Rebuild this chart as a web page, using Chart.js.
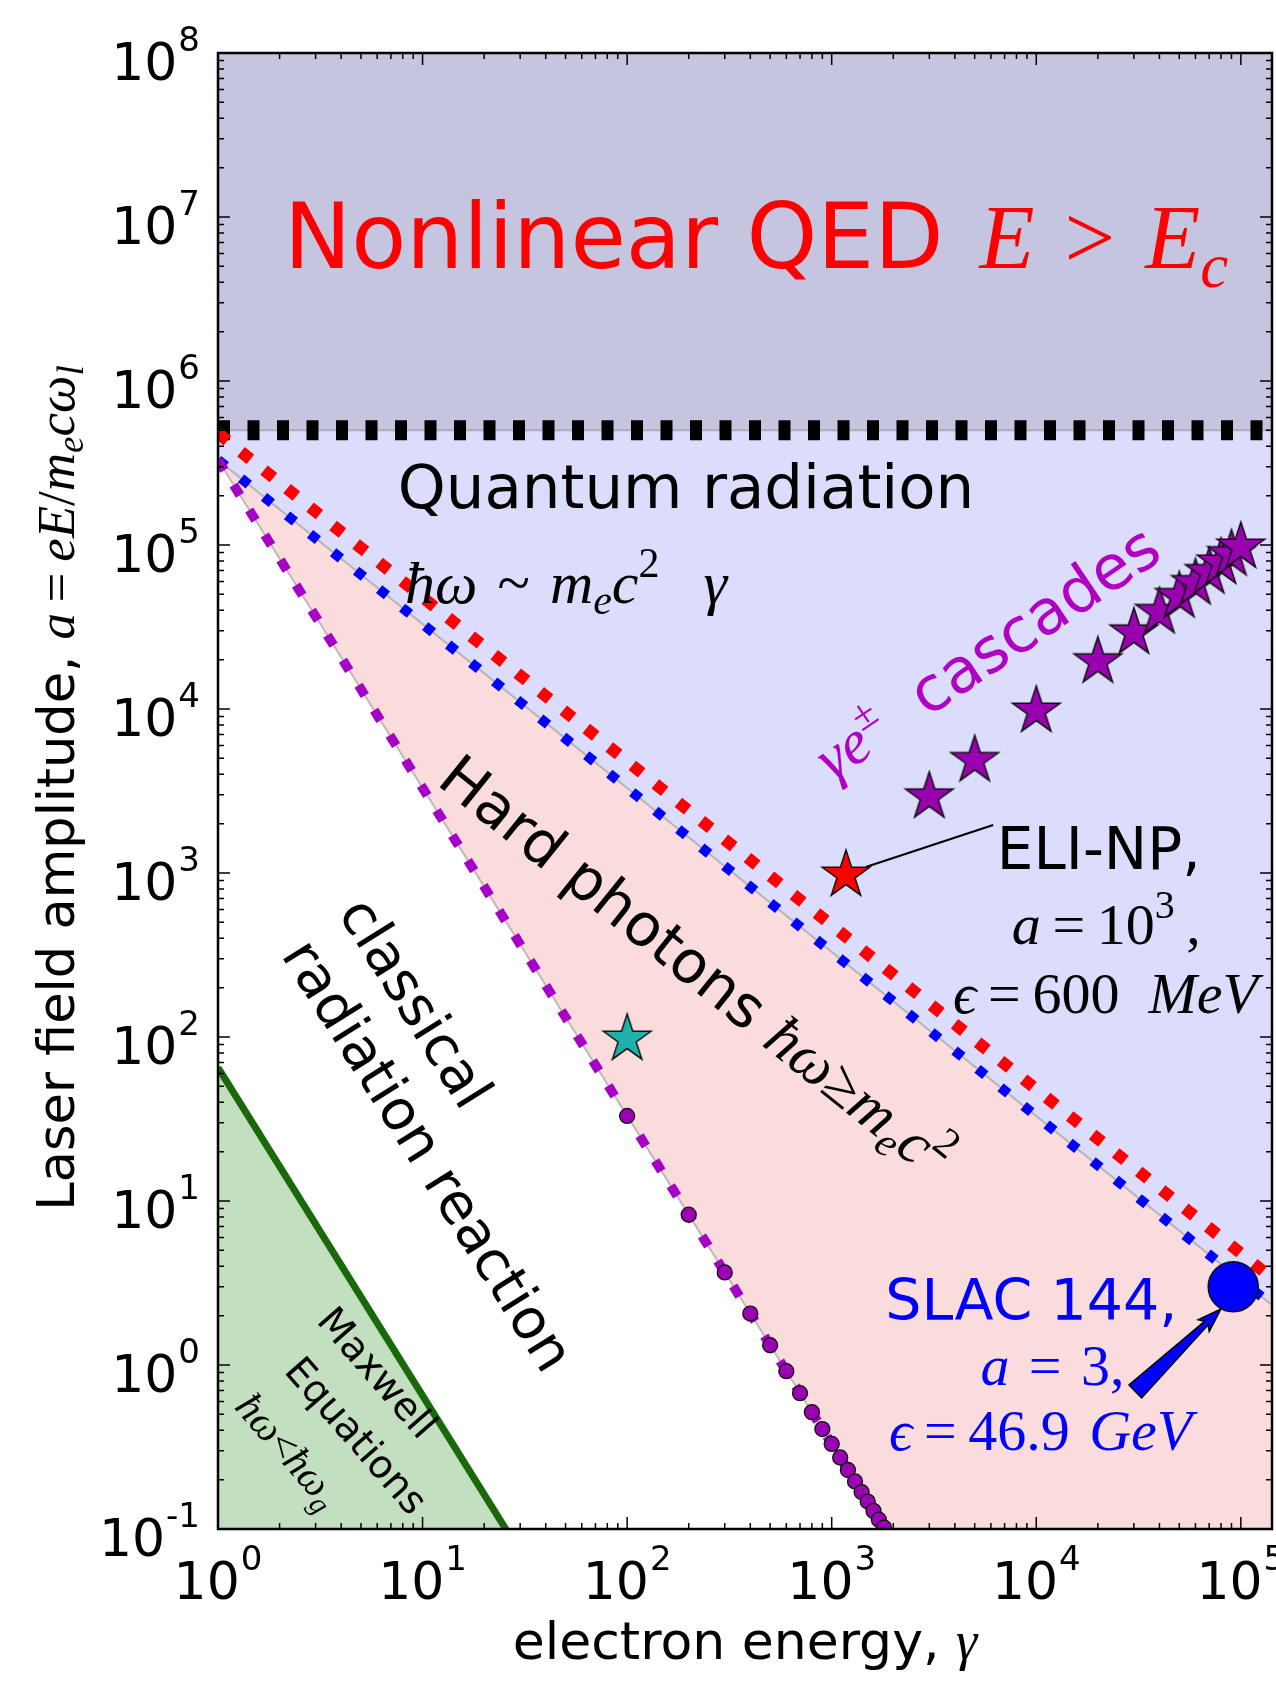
<!DOCTYPE html>
<html>
<head>
<meta charset="utf-8">
<script src="https://cdn.jsdelivr.net/npm/chart.js@4.4.1/dist/chart.umd.min.js"></script>
<style>
html,body{margin:0;padding:0;background:#ffffff;}
canvas{display:block;}
</style>
</head>
<body>
<canvas id="c" width="1276" height="1681"></canvas>
<script>
// ------------------------- DATA -------------------------
const xRange = [1, 1.42e5];
const yRange = [0.1, 1e8];
const xTickValues = [1, 10, 100, 1000, 10000, 100000];
const xTickLabels = ['10^0', '10^1', '10^2', '10^3', '10^4', '10^5'];
const yTickValues = [0.1, 1, 10, 100, 1000, 10000, 100000, 1e6, 1e7, 1e8];
const yTickLabels = ['10^-1', '10^0', '10^1', '10^2', '10^3', '10^4', '10^5', '10^6', '10^7', '10^8'];

// E = E_c (black dotted), nonlinear QED region above it
const criticalGamma = [1, 1.42e5];
const criticalA = [5e5, 5e5];
// hbar*omega ~ m c^2 gamma  (red dotted)
const quantumRedGamma = [1, 1.42e5];
const quantumRedA = [4.8e5, 3.38];
// quantum radiation boundary (blue dotted)
const quantumBlueGamma = [1, 1.42e5];
const quantumBlueA = [3.3e5, 2.32];
// hard photons boundary hbar*omega >= m c^2 (purple dotted)
const hardGamma = [1, 2000];
const hardA = [3.3e5, 0.0825];
// Maxwell equations boundary (green)
const maxwellGamma = [1, 26];
const maxwellA = [65, 0.0962];
// purple circles on the hard-photon boundary
const rrGamma = [100, 200, 300, 400, 500, 600, 700, 800, 900, 1000, 1100, 1200, 1300, 1400, 1500, 1600, 1700, 1800];
const rrA = [33, 8.25, 3.67, 2.06, 1.32, 0.917, 0.673, 0.516, 0.407, 0.33, 0.273, 0.229, 0.195, 0.168, 0.147, 0.129, 0.114, 0.102];
// gamma e+- cascades (purple stars)
const cascadeGamma = [3000, 5000, 10000, 20000, 30000, 40000, 50000, 60000, 70000, 80000, 90000, 100000];
const cascadeA = [3000, 5000, 10000, 20000, 30000, 40000, 50000, 60000, 70000, 80000, 90000, 100000];
// ELI-NP (red star)
const eliGamma = [1174];
const eliA = [1000];
// cyan star
const cyanGamma = [100];
const cyanA = [100];
// SLAC 144 (blue circle)
const slacGamma = [91780];
const slacA = [3];

// ------------------------- STYLE HELPERS -------------------------
const SANS = '"DejaVu Sans", "Bitstream Vera Sans", sans-serif';
const SERIF = '"Liberation Serif", "DejaVu Serif", serif';
const pts = (xs, ys) => xs.map((x, i) => ({x: x, y: ys[i]}));

function makeStar(R, fill) {
  const c = document.createElement('canvas');
  const s = Math.ceil(2 * R + 6);
  c.width = s; c.height = s;
  const g = c.getContext('2d');
  const r = R * 0.382;
  g.beginPath();
  for (let i = 0; i < 10; i++) {
    const rad = (i % 2 === 0) ? R : r;
    const ang = -Math.PI / 2 + i * Math.PI / 5;
    const px = s / 2 + rad * Math.cos(ang), py = s / 2 + rad * Math.sin(ang) + R * 0.08;
    if (i === 0) g.moveTo(px, py); else g.lineTo(px, py);
  }
  g.closePath();
  g.fillStyle = fill; g.fill();
  g.lineWidth = 1.5; g.strokeStyle = '#111'; g.lineJoin = 'miter'; g.stroke();
  return c;
}
const purpleStar = makeStar(25, '#9900b0');
const redStar = makeStar(25, '#ff0000');
const cyanStar = makeStar(25, '#20b2aa');

function dotted(lw, period) { return [lw, period - lw]; }

// rich text: runs of {t, font, dy, g(extra gap after)}
function drawRich(ctx, runs, x, y, angleDeg, align, shift, color) {
  ctx.save();
  ctx.translate(x, y);
  ctx.rotate(angleDeg * Math.PI / 180);
  ctx.textBaseline = 'alphabetic';
  ctx.textAlign = 'left';
  let total = 0;
  runs.forEach(r => { ctx.font = r.font; r.w = ctx.measureText(r.t).width + (r.g || 0); total += r.w; });
  let cx = align === 'center' ? -total / 2 : (align === 'right' ? -total : 0);
  runs.forEach(r => {
    ctx.font = r.font;
    ctx.fillStyle = r.color || color || '#000';
    ctx.fillText(r.t, cx, (shift || 0) + (r.dy || 0));
    cx += r.w;
  });
  ctx.restore();
}
const S = (t, px, dy, g) => ({t: t, font: px + 'px ' + SANS, dy: dy || 0, g: g || 0});
const M = (t, px, dy, g) => ({t: t, font: 'italic ' + px + 'px ' + SERIF, dy: dy || 0, g: g || 0});
const U = (t, px, dy, g) => ({t: t, font: px + 'px ' + SERIF, dy: dy || 0, g: g || 0});

function drawPow(ctx, label, x, y, align) {
  const parts = label.split('^');
  const bf = '52px ' + SANS, ef = '34px ' + SANS;
  ctx.font = bf; const wb = ctx.measureText(parts[0]).width;
  ctx.font = ef; const we = ctx.measureText(parts[1]).width;
  const tot = wb + 1 + we;
  let x0 = align === 'right' ? x - tot : x - tot / 2;
  ctx.fillStyle = '#000';
  ctx.textAlign = 'left'; ctx.textBaseline = 'alphabetic';
  ctx.font = bf; ctx.fillText(parts[0], x0, y);
  ctx.font = ef; ctx.fillText(parts[1], x0 + wb + 1, y - 29);
}

// ------------------------- DECORATION PLUGIN -------------------------
const decor = {
  id: 'decor',
  afterDatasetsDraw(chart) {
    const ctx = chart.ctx, xs = chart.scales.x, ys = chart.scales.y, A = chart.chartArea;
    const X = v => xs.getPixelForValue(v), Y = v => ys.getPixelForValue(v);

    ctx.save();
    ctx.beginPath(); ctx.rect(A.left, A.top, A.right - A.left, A.bottom - A.top); ctx.clip();
    // ELI-NP connector line
    ctx.strokeStyle = '#000'; ctx.lineWidth = 2;
    ctx.beginPath(); ctx.moveTo(X(1469), Y(1088)); ctx.lineTo(X(6155), Y(1963)); ctx.stroke();

    // SLAC arrow (tapered wedge with head)
    const tx = X(3.05e4), ty = Y(0.69), hx = X(7.98e4), hy = Y(2.19);
    const L = Math.hypot(hx - tx, hy - ty), ux = (hx - tx) / L, uy = (hy - ty) / L, nx = -uy, ny = ux;
    const q = (d, w) => [tx + ux * d + nx * w, ty + uy * d + ny * w];
    const poly = [q(0, -9), q(L * 0.83, -2.5), q(L * 0.80, -8), q(L, 0), q(L * 0.80, 8), q(L * 0.83, 2.5), q(0, 9)];
    ctx.beginPath(); poly.forEach((p, i) => i ? ctx.lineTo(p[0], p[1]) : ctx.moveTo(p[0], p[1])); ctx.closePath();
    ctx.fillStyle = '#0000ff'; ctx.fill(); ctx.lineWidth = 1.5; ctx.strokeStyle = '#000'; ctx.stroke();
    ctx.restore();
  },
  afterDraw(chart) {
    const ctx = chart.ctx, xs = chart.scales.x, ys = chart.scales.y, A = chart.chartArea;
    const X = v => xs.getPixelForValue(v), Y = v => ys.getPixelForValue(v);

    // ---- texts inside plot ----
    drawRich(ctx, [S('Nonlinear QED', 90, 0, 36), M('E', 90), U('\u2004>\u2004', 90), M('E', 90), M('c', 63, 19)],
      X(2.10), Y(4.89e6), 0, 'left', 0, '#ff0000');
    drawRich(ctx, [S('Quantum radiation', 61)], X(194), Y(1.68e5), 0, 'center', 0, '#000');
    drawRich(ctx, [M('\u0127\u03c9', 60), U('\u2004~\u2004', 60), M('m', 60), M('e', 42, 11), M('c', 60), U('2', 42, -26, 44), M('\u03b3', 60)],
      X(8.21), Y(4.46e4), 0, 'left', 0, '#000');
    drawRich(ctx, [M('\u03b3e', 62), U('\u00b1', 42, -25), S('  cascades', 62)],
      X(5770), Y(2.19e4), -34, 'center', 20, '#b000c4');
    drawRich(ctx, [S('Hard photons ', 59), M('\u0127\u03c9', 61), U('\u2265', 61), M('m', 61), M('e', 42, 11), M('c', 61), U('2', 42, -26)],
      X(219), Y(275), 38.7, 'center', 22, '#000');
    drawRich(ctx, [S('classical', 56)], X(4.42), Y(638), 58, 'left', 15, '#000');
    drawRich(ctx, [S('radiation reaction', 56)], X(2.33), Y(354), 58, 'left', 15, '#000');
    drawRich(ctx, [S('Maxwell', 39)], X(6.05), Y(0.906), 49, 'center', 14, '#000');
    drawRich(ctx, [S('Equations', 39)], X(4.78), Y(0.374), 49, 'center', 14, '#000');
    drawRich(ctx, [M('\u0127\u03c9', 41), U('<', 41), M('\u0127\u03c9', 41), M('g', 29, 8)], X(2.2), Y(0.30), 49, 'center', 13, '#000');

    drawRich(ctx, [S('ELI-NP,', 58)], X(2.02e4), Y(1057), 0, 'center', 0, '#000');
    drawRich(ctx, [M('a', 58), U('\u2009=\u200910', 58), U('3', 40, -26), U('\u2009,', 58)], X(2.20e4), Y(371), 0, 'center', 0, '#000');
    drawRich(ctx, [M('\u03f5', 58), U('\u2009=\u2009600\u2002', 58), M('MeV', 58)], X(2.18e4), Y(141), 0, 'center', 0, '#000');

    drawRich(ctx, [S('SLAC 144,', 57)], X(9460), Y(1.87), 0, 'center', 0, '#0000ff');
    drawRich(ctx, [M('a', 58), U('\u2004=\u20043,', 58)], X(1.2e4), Y(0.755), 0, 'center', 0, '#0000ff');
    drawRich(ctx, [M('\u03f5', 58), U('\u2009=\u200946.9\u2004', 58), M('GeV', 58)], X(1.05e4), Y(0.303), 0, 'center', 0, '#0000ff');

    // ---- frame and ticks ----
    ctx.save();
    ctx.strokeStyle = '#000';
    ctx.lineWidth = 1.5;
    const minorOf = (majors, lo, hi) => { const out = []; majors.forEach(m => { for (let k = 2; k <= 9; k++) { const v = m * k; if (v > lo && v < hi) out.push(v); } }); return out; };
    const xMinor = minorOf(xTickValues, xRange[0], xRange[1]);
    const yMinor = minorOf(yTickValues, yRange[0], yRange[1]);
    ctx.beginPath();
    xTickValues.forEach(v => { const p = X(v); ctx.moveTo(p, A.bottom); ctx.lineTo(p, A.bottom - 12); ctx.moveTo(p, A.top); ctx.lineTo(p, A.top + 12); });
    xMinor.forEach(v => { const p = X(v); ctx.moveTo(p, A.bottom); ctx.lineTo(p, A.bottom - 6); ctx.moveTo(p, A.top); ctx.lineTo(p, A.top + 6); });
    yTickValues.forEach(v => { const p = Y(v); ctx.moveTo(A.left, p); ctx.lineTo(A.left + 12, p); ctx.moveTo(A.right, p); ctx.lineTo(A.right - 12, p); });
    yMinor.forEach(v => { const p = Y(v); ctx.moveTo(A.left, p); ctx.lineTo(A.left + 6, p); ctx.moveTo(A.right, p); ctx.lineTo(A.right - 6, p); });
    ctx.stroke();
    ctx.lineWidth = 2.5;
    ctx.strokeRect(A.left, A.top, A.right - A.left, A.bottom - A.top);
    ctx.restore();

    // ---- tick labels ----
    xTickValues.forEach((v, i) => drawPow(ctx, xTickLabels[i], X(v), A.bottom + 70, 'center'));
    yTickValues.forEach((v, i) => drawPow(ctx, yTickLabels[i], A.left - 18, Y(v) + 27, 'right'));

    // ---- axis titles ----
    drawRich(ctx, [S('electron energy, ', 52), M('\u03b3', 54)], (A.left + A.right) / 2, A.bottom + 130, 0, 'center', 0, '#000');
    drawRich(ctx, [S('Laser field amplitude, ', 51), M('a', 53), U('\u2009=\u2009', 53), M('eE', 53), U('/', 53), M('m', 53), M('e', 37, 9), M('c\u03c9', 53), M('l', 37, 9)],
      A.left - 144, (A.top + A.bottom) / 2 - 3, -90, 'center', 0, '#000');
  }
};

// ------------------------- CHART -------------------------
const edge = 'rgba(140,140,140,0.55)';
new Chart(document.getElementById('c'), {
  type: 'scatter',
  data: {
    datasets: [
      {type: 'line', label: 'quantum radiation region', data: pts(quantumBlueGamma, quantumBlueA), fill: 'end', backgroundColor: '#dcdcfc', borderWidth: 0, pointRadius: 0, order: 100},
      {type: 'line', label: 'nonlinear QED region', data: pts(criticalGamma, criticalA), fill: 'end', backgroundColor: '#c5c5e0', borderColor: edge, borderWidth: 2, pointRadius: 0, order: 99},
      {type: 'line', label: 'hard photons region', data: pts(quantumBlueGamma, quantumBlueA), fill: 'start', backgroundColor: '#fadcdc', borderColor: edge, borderWidth: 2, pointRadius: 0, order: 98},
      {type: 'line', label: 'classical region', data: pts(hardGamma, hardA), fill: 'start', backgroundColor: '#ffffff', borderColor: edge, borderWidth: 2, pointRadius: 0, order: 97},
      {type: 'line', label: 'Maxwell region', data: pts(maxwellGamma, maxwellA), fill: 'start', backgroundColor: '#c2dfc0', borderWidth: 0, pointRadius: 0, order: 96},

      {type: 'line', label: 'E = Ec', data: pts(criticalGamma, criticalA), fill: false, borderColor: '#000000', borderWidth: 20, borderDash: dotted(12, 29.5), borderCapStyle: 'butt', pointRadius: 0, order: 20, clip: 0},
      {type: 'line', label: 'red boundary', data: pts(quantumRedGamma, quantumRedA), fill: false, borderColor: '#ff0000', borderWidth: 12, borderDash: dotted(12, 29.5), borderCapStyle: 'butt', pointRadius: 0, order: 19, clip: 0},
      {type: 'line', label: 'blue boundary', data: pts(quantumBlueGamma, quantumBlueA), fill: false, borderColor: '#0000ff', borderWidth: 10, borderDash: dotted(10, 29.5), borderCapStyle: 'butt', pointRadius: 0, order: 18, clip: 0},
      {type: 'line', label: 'purple boundary', data: pts(hardGamma, hardA), fill: false, borderColor: '#a600c6', borderWidth: 9.5, borderDash: dotted(12, 29.5), borderCapStyle: 'butt', pointRadius: 0, order: 17, clip: 0},
      {type: 'line', label: 'Maxwell boundary', data: pts(maxwellGamma, maxwellA), fill: false, borderColor: '#19690b', borderWidth: 7, pointRadius: 0, order: 16, clip: 0},

      {label: 'radiation reaction points', data: pts(rrGamma, rrA), backgroundColor: '#9c00b4', borderColor: '#111', borderWidth: 1.3, pointRadius: 7.5, order: 5, clip: 0},
      {label: 'cascades', data: pts(cascadeGamma, cascadeA), pointStyle: purpleStar, pointRadius: 25, order: 4, clip: 0},
      {label: 'cyan', data: pts(cyanGamma, cyanA), pointStyle: cyanStar, pointRadius: 25, order: 3, clip: 0},
      {label: 'ELI-NP', data: pts(eliGamma, eliA), pointStyle: redStar, pointRadius: 25, order: 2, clip: 0},
      {label: 'SLAC 144', data: pts(slacGamma, slacA), backgroundColor: '#0000ff', borderColor: '#111', borderWidth: 1.5, pointRadius: 25, order: 1, clip: 0}
    ]
  },
  options: {
    responsive: false,
    animation: false,
    devicePixelRatio: 1,
    events: [],
    layout: {autoPadding: false, padding: {left: 218, top: 53, right: 4, bottom: 152}},
    plugins: {legend: {display: false}, tooltip: {enabled: false}},
    elements: {line: {tension: 0}},
    scales: {
      x: {type: 'logarithmic', min: xRange[0], max: xRange[1], display: false},
      y: {type: 'logarithmic', min: yRange[0], max: yRange[1], display: false}
    }
  },
  plugins: [decor]
});
</script>
</body>
</html>
